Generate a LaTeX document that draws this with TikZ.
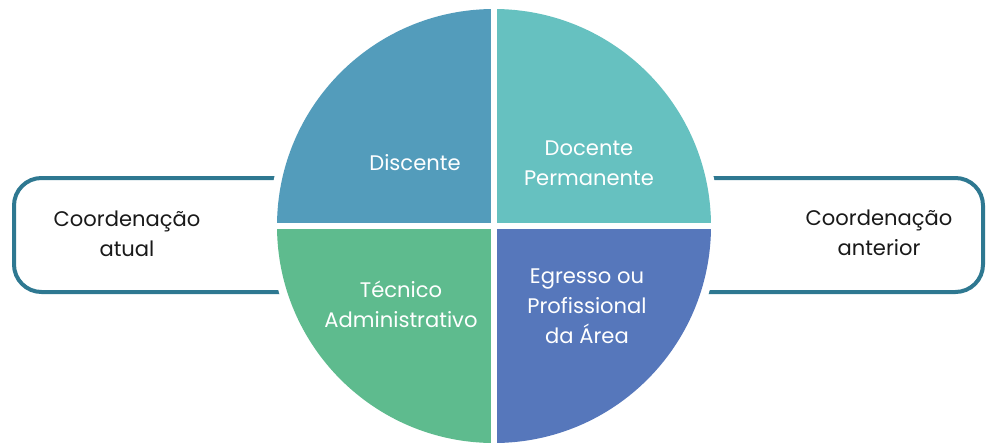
\documentclass[tikz,border=0pt]{standalone}
\usepackage{fontspec}
\setmainfont{Poppins}
\definecolor{discblue}{HTML}{539CBB}
\definecolor{docteal}{HTML}{66C1C0}
\definecolor{tecgreen}{HTML}{5EBB8E}
\definecolor{egrblue}{HTML}{5677BB}
\definecolor{framecol}{HTML}{2E7891}
\tikzstyle{inlabel} = [text=white, align=center, font=\fontsize{12}{17}\selectfont]
\tikzstyle{outlabel} = [text=black!90, align=center, font=\fontsize{12}{17}\selectfont]
\tikzstyle{frame} = [draw=framecol, line width=0.8mm, rounded corners=5.5mm]
\tikzstyle{gap} = [draw=white, line width=1.2mm]

\begin{document}
\begin{tikzpicture}[x=0.2mm, y=0.2mm]
        \useasboundingbox (0,0) rectangle (987,443);
        \coordinate (O) at (494,217);
        % Side frames
        \path [frame] (494,151) -| (14,265) -- (494,265);
        \path [frame] (494,151) -| (983,265) -- (494,265);
        % Quarters
        \fill [white] (O) circle [radius=225];
        \fill [discblue] (O) -- ++(0,217) arc [start angle=90, end angle=180, radius=217] -- cycle;
        \fill [docteal] (O) -- ++(217,0) arc [start angle=0, end angle=90, radius=217] -- cycle;
        \fill [tecgreen] (O) -- ++(-217,0) arc [start angle=180, end angle=270, radius=217] -- cycle;
        \fill [egrblue] (O) -- ++(0,-217) arc [start angle=270, end angle=360, radius=217] -- cycle;
        \path [gap] (494,-5) -- (494,448);
        \path [gap] (270,217) -- (718,217);
        % Place nodes
        \node [inlabel] (disc) at (415,280) {Discente};
        \node [inlabel] (doc) at (589,280) {Docente\\Permanente};
        \node [inlabel] (tec) at (401,139) {Técnico\\Administrativo};
        \node [inlabel] (egr) at (587,137) {Egresso ou\\Profissional\\da Área};
        \node [outlabel] (atual) at (127,209) {Coordenação\\atual};
        \node [outlabel] (ant) at (879,210) {Coordenação\\anterior};
    \end{tikzpicture}
\end{document}
